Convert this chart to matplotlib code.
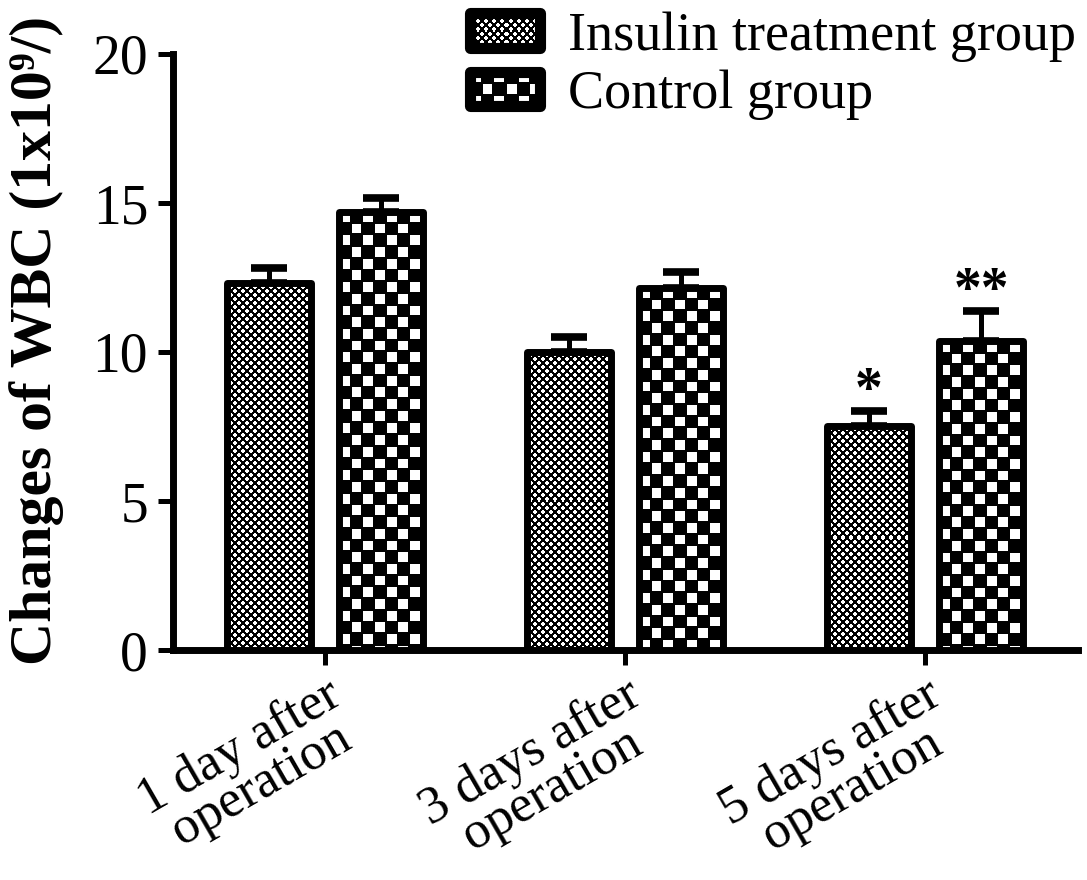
import numpy as np
import matplotlib
matplotlib.use("Agg")
import matplotlib.pyplot as plt
import matplotlib.transforms as mtransforms

# data
groups = ["1 day after\noperation", "3 days after\noperation", "5 days after\noperation"]
series = ["Insulin treatment group", "Control group"]
insulin_mean = [12.30, 10.00, 7.52]
insulin_err = [0.52, 0.49, 0.49]
control_mean = [14.70, 12.15, 10.36]
control_err = [0.48, 0.53, 1.00]
insulin_marks = ["", "", "*"]
control_marks = ["", "", "**"]

SERIF = ["Liberation Serif", "DejaVu Serif"]
plt.rcParams["font.family"] = SERIF


def texture(kind, h, w):
    yy, xx = np.mgrid[0:h, 0:w] + 0.5
    if kind == "dots":
        u = (xx + yy) / 8.0
        v = (xx - yy) / 8.0
        du = u - np.round(u)
        dv = v - np.round(v)
        d = 4 * np.sqrt(2) * np.sqrt(du ** 2 + dv ** 2)
        return (d < 1.9).astype(float)
    c = 11.7
    fx = (xx / c) % 1
    fy = (yy / c) % 1
    par = (np.floor(xx / c) + np.floor(yy / c)) % 2 == 0
    inner = (fx > 0.08) & (fx < 0.92) & (fy > 0.08) & (fy < 0.92)
    return (par & inner).astype(float)


fig = plt.figure(figsize=(10.87, 8.8), dpi=100)
ax = fig.add_axes([173 / 1087, 1 - 650 / 880, 905 / 1087, 596 / 880])
ax.set_xlim(-0.507, 2.51)
ax.set_ylim(0, 20)

x = np.arange(len(groups))
width = 0.28
offset = 0.187
kinds = ["dots", "check"]
all_means = [insulin_mean, control_mean]
all_errs = [insulin_err, control_err]
all_marks = [insulin_marks, control_marks]

for k, (means, errs, marks) in enumerate(zip(all_means, all_errs, all_marks)):
    xs = x + (offset if k else -offset)
    ax.errorbar(xs, means, yerr=[np.zeros(len(means)), errs], fmt="none",
                ecolor="black", elinewidth=3.6, capsize=13, capthick=5.5, zorder=2)
    bars = ax.bar(xs, means, width, facecolor="none", edgecolor="black",
                  linewidth=5, joinstyle="round", zorder=4, label=series[k])
    for b in bars:
        x0, y0 = b.get_x(), b.get_y()
        x1, y1 = x0 + b.get_width(), y0 + b.get_height()
        p0 = ax.transData.transform((x0, y0))
        p1 = ax.transData.transform((x1, y1))
        w_px = int(round(p1[0] - p0[0]))
        h_px = int(round(p1[1] - p0[1]))
        im = ax.imshow(texture(kinds[k], h_px, w_px), cmap="gray", vmin=0, vmax=1,
                       extent=(x0, x1, y0, y1), origin="upper", aspect="auto",
                       interpolation="nearest", zorder=3)
        im.set_clip_path(b)
    for xi, m, e, s in zip(xs, means, errs, marks):
        if s:
            ax.annotate(s, (xi, m + e), xytext=(0, 14), textcoords="offset points",
                        ha="center", va="center", fontsize=40, fontweight="bold")

ax.set_xlim(-0.507, 2.51)
ax.set_ylim(0, 20)

ax.spines["top"].set_visible(False)
ax.spines["right"].set_visible(False)
for sp in ["left", "bottom"]:
    ax.spines[sp].set_linewidth(5)
    ax.spines[sp].set_capstyle("projecting")

ax.set_yticks([0, 5, 10, 15, 20])
ax.set_xticks(x)
ax.set_xticklabels(groups, rotation=30, ha="right", va="top",
                   rotation_mode="anchor", ma="center", fontsize=38,
                   linespacing=0.85)
shift = mtransforms.ScaledTranslation(-30 / 100, 12 / 100, fig.dpi_scale_trans)
for lab in ax.get_xticklabels():
    lab.set_transform(lab.get_transform() + shift)
ax.tick_params(axis="both", width=3.6, length=11, direction="out")
ax.tick_params(axis="y", labelsize=40, pad=7)
ax.tick_params(axis="x", pad=4)

ax.set_ylabel("Changes of WBC (1x10\u2079/)", fontsize=43, fontweight="bold")
ax.yaxis.set_label_coords(-0.12, 0.52)

leg = ax.legend(loc="upper left", bbox_to_anchor=(470 / 1087, 1 - 11 / 880),
                bbox_transform=fig.transFigure, frameon=False, fontsize=39,
                handlelength=1.3, handleheight=0.6, handletextpad=0.5,
                labelspacing=0.15, borderpad=0, borderaxespad=0)

# put the bar textures into the legend swatches
fig.canvas.draw()
for k, h in enumerate(leg.legend_handles):
    bb = h.get_window_extent().transformed(fig.transFigure.inverted())
    sw = fig.add_axes([bb.x0, bb.y0, bb.width, bb.height])
    sw.set_axis_off()
    hp = int(round(bb.height * 880))
    wp = int(round(bb.width * 1087))
    sw.imshow(texture(kinds[k], hp, wp), cmap="gray", vmin=0, vmax=1,
              aspect="auto", interpolation="nearest", extent=(0, 1, 0, 1))
    sw.add_patch(plt.Rectangle((0, 0), 1, 1, facecolor="none", edgecolor="black",
                               linewidth=8, joinstyle="round", transform=sw.transAxes,
                               clip_on=False))
    sw.set_xlim(0, 1)
    sw.set_ylim(0, 1)

fig.savefig("out.png", dpi=100)
